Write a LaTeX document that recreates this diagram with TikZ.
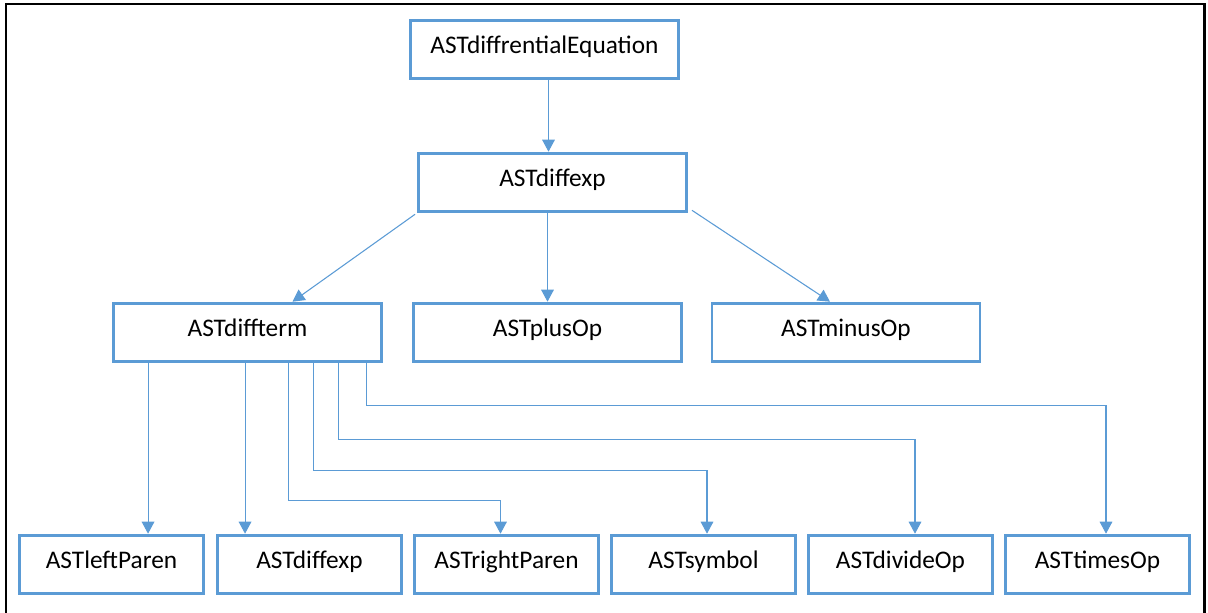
\documentclass[tikz,border=0pt]{standalone}
\usepackage{fontspec}
\setmainfont{Carlito}
\usetikzlibrary{arrows.meta,calc}
\definecolor{boxblue}{HTML}{5B9BD5}
\tikzset{
  astbox/.style={draw=boxblue, line width=2.2pt, fill=white, inner sep=0pt,
    font=\fontsize{19pt}{22pt}\selectfont, text=black,
    text height=0.64em, text depth=0.08em},
  wide/.style={astbox, minimum width=201pt, minimum height=44pt},
  narrow/.style={astbox, minimum width=138pt, minimum height=44pt},
  conn/.style={draw=boxblue, line width=0.8pt,
    -{Triangle[length=9pt,width=9.5pt]}},
}
\begin{document}
\begin{tikzpicture}[x=0.75pt,y=-0.75pt]
\useasboundingbox (0,0) rectangle (1208,613);
% page frame
\draw[line width=1.6pt] (6,613) -- (6,4) -- (1204.5,4) -- (1204.5,613);

% nodes
\node[wide] (eq) at (544.5,49.5) {ASTdiffrentialEquation};
\node[wide] (diffexp) at (552.5,182.5) {ASTdiffexp};
\node[wide] (diffterm) at (247.5,332.5) {ASTdiffterm};
\node[wide] (plus) at (547.5,332.5) {ASTplusOp};
\node[wide] (minus) at (846,332.5) {ASTminusOp};
\node[narrow] (lparen) at (111.5,564.5) {ASTleftParen};
\node[narrow] (diffexpb) at (309.5,564.5) {ASTdiffexp};
\node[narrow] (rparen) at (506.5,564.5) {ASTrightParen};
\node[narrow] (symbol) at (703.5,564.5) {ASTsymbol};
\node[narrow] (divide) at (900.5,564.5) {ASTdivideOp};
\node[narrow] (times) at (1097.5,564.5) {ASTtimesOp};

% upper connectors
\draw[conn] ($(eq.south)+(4,0)$) -- ($(diffexp.north)+(-4,0)$);
\draw[conn] ($(diffexp.south west)+(-2,1)$) -- ($(diffterm.north)+(45,0)$);
\draw[conn] ($(diffexp.south)+(-5,0)$) -- (plus.north);
\draw[conn] ($(diffexp.south east)+(4,-3)$) -- ($(minus.north)+(-16,0)$);

% connectors from ASTdiffterm to the bottom row
\draw[conn] ($(diffterm.south west)+(36,0)$) coordinate (s1) -- (s1 |- lparen.north);
\draw[conn] ($(diffterm.south west)+(133,0)$) coordinate (s2) -- (s2 |- diffexpb.north);
\draw[conn] ($(diffterm.south west)+(176,0)$) |- ($(rparen.north)+(-6,-33)$) -- ($(rparen.north)+(-6,0)$);
\draw[conn] ($(diffterm.south west)+(201,0)$) |- ($(symbol.north)+(3.5,-63)$) -- ($(symbol.north)+(3.5,0)$);
\draw[conn] ($(diffterm.south west)+(226,0)$) |- ($(divide.north)+(14.5,-94)$) -- ($(divide.north)+(14.5,0)$);
\draw[conn] ($(diffterm.south west)+(254,0)$) |- ($(times.north)+(8.5,-128)$) -- ($(times.north)+(8.5,0)$);
\end{tikzpicture}
\end{document}
